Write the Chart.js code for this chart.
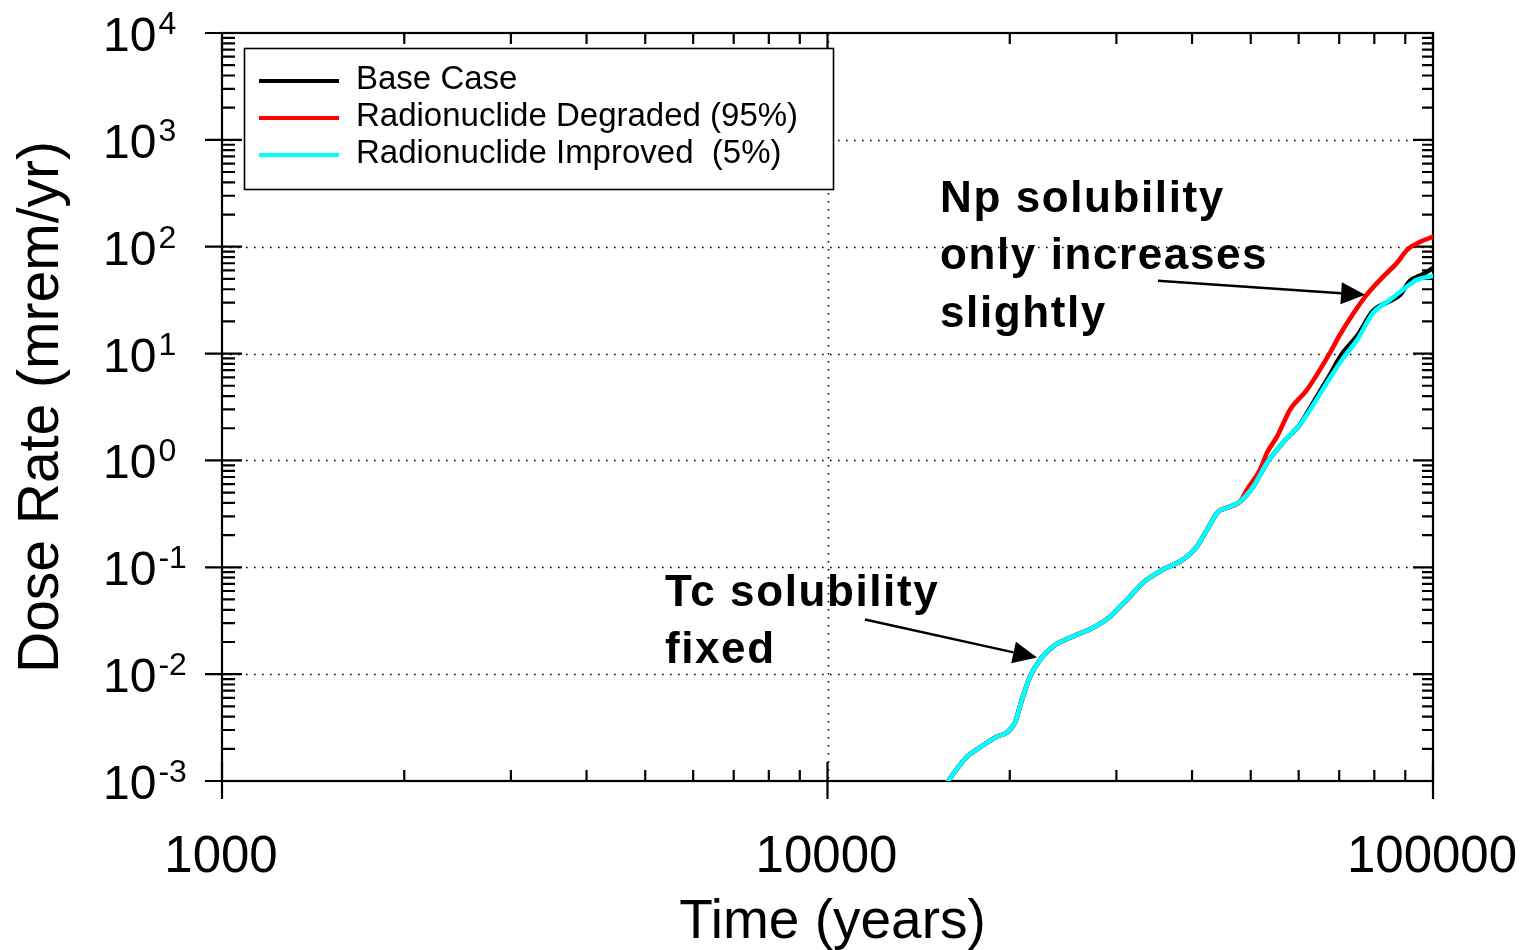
<!DOCTYPE html>
<html>
<head>
<meta charset="utf-8">
<title>Dose Rate vs Time</title>
<script src="https://cdn.jsdelivr.net/npm/chart.js@4.4.0/dist/chart.umd.min.js"></script>
<style>
  html, body { margin: 0; padding: 0; background: #ffffff; }
  #wrap { width: 1523px; height: 950px; position: relative; }
</style>
</head>
<body>
<div id="wrap"><canvas id="c" width="1523" height="950"></canvas></div>
<script>
// ---- data (years, mrem/yr) ----
// all three cases coincide up to ~48,000 years
const sharedYears = [15810, 17000, 17860, 19050, 19790, 20400, 20950, 21600, 22440, 23570,
                     25430, 27450, 29280, 30420, 31590, 33190, 35810, 38640, 40740, 42360,
                     44160, 45710, 47980];
const sharedDose  = [0.001, 0.00169, 0.00206, 0.00261, 0.00284, 0.00353, 0.00578, 0.00948, 0.0137, 0.0181,
                     0.0225, 0.0272, 0.0345, 0.0428, 0.0532, 0.0718, 0.0951, 0.118, 0.156, 0.225,
                     0.331, 0.361, 0.411];

const baseTailYears = [50470, 53200, 56490, 60260, 62660, 66830, 70990, 74990, 79600,
                       84880, 88220, 91620, 95900, 100000];
const baseTailDose  = [0.568, 0.953, 1.466, 2.16, 3.1, 5.69, 10.2, 14.7, 25.1,
                       31.0, 35.5, 47.9, 54.6, 63.1];

const degradedTailYears = [49290, 51800, 53190, 55250, 56960, 58050, 61920, 67610, 70220, 77240,
                           82660, 87200, 90620, 95200, 100000];
const degradedTailDose  = [0.532, 0.818, 1.18, 1.67, 2.40, 2.98, 4.58, 10.2, 15.1, 34.0,
                           52.2, 70.6, 93.5, 111, 124];

const improvedTailYears = [50470, 53200, 56490, 60260, 62660, 66830, 70990, 74990, 79620, 84880,
                           89140, 93980, 100000];
const improvedTailDose  = [0.568, 0.953, 1.466, 2.16, 2.98, 5.33, 9.0, 13.5, 24.0, 31.8,
                           39.5, 49.0, 53.3];

const seriesNames  = ['Base Case', 'Radionuclide Degraded (95%)', 'Radionuclide Improved  (5%)'];
const seriesColors = ['#000000', '#ff0000', '#00ffff'];

// ---- axis tick labels ----
const xTickValues = [1000, 10000, 100000];
const xTickLabels = ['1000', '10000', '100000'];
const yTickExponents = [-3, -2, -1, 0, 1, 2, 3, 4];

const FONT = '"Liberation Sans", Arial, Helvetica, sans-serif';

function toPoints(years, dose) {
  return years.map((t, i) => ({ x: t, y: dose[i] }));
}

const basePts     = toPoints(sharedYears.concat(baseTailYears), sharedDose.concat(baseTailDose));
const degradedPts = toPoints(sharedYears.concat(degradedTailYears), sharedDose.concat(degradedTailDose));
const improvedPts = toPoints(sharedYears.concat(improvedTailYears), sharedDose.concat(improvedTailDose));

// callouts: anchors given in data units
const callouts = [
  { lines: ['Np solubility', 'only increases', 'slightly'], textAt: [15340, 212],
    from: [35140, 48.0], to: [77240, 35.5] },
  { lines: ['Tc solubility', 'fixed'], textAt: [5390, 0.0436],
    from: [11530, 0.0324], to: [22180, 0.01429] }
];

function drawArrow(ctx, x1, y1, x2, y2) {
  const ang = Math.atan2(y2 - y1, x2 - x1);
  const len = 24, half = 11;
  const bx = x2 - len * Math.cos(ang), by = y2 - len * Math.sin(ang);
  ctx.beginPath();
  ctx.moveTo(x1, y1);
  ctx.lineTo(bx, by);
  ctx.stroke();
  ctx.beginPath();
  ctx.moveTo(x2, y2);
  ctx.lineTo(bx + half * Math.sin(ang), by - half * Math.cos(ang));
  ctx.lineTo(bx - half * Math.sin(ang), by + half * Math.cos(ang));
  ctx.closePath();
  ctx.fill();
}

const framePlugin = {
  id: 'frame',
  beforeDatasetsDraw(chart) {
    const { ctx, chartArea: a, scales: { x, y } } = chart;
    ctx.save();

    // dotted grid at the decades
    ctx.strokeStyle = '#000';
    ctx.lineWidth = 1.6;
    ctx.setLineDash([1.6, 6.4]);
    for (let e = -2; e <= 3; e++) {
      const py = Math.round(y.getPixelForValue(Math.pow(10, e))) + 0.5;
      ctx.beginPath(); ctx.moveTo(a.left, py); ctx.lineTo(a.right, py); ctx.stroke();
    }
    const gx = Math.round(x.getPixelForValue(10000)) + 0.5;
    ctx.beginPath(); ctx.moveTo(gx, a.top); ctx.lineTo(gx, a.bottom); ctx.stroke();
    ctx.setLineDash([]);

    // frame
    ctx.lineWidth = 2.2;
    ctx.strokeRect(a.left, a.top, a.right - a.left, a.bottom - a.top);

    // y ticks (left and right)
    for (let e = -3; e <= 4; e++) {
      for (let m = 1; m <= 9; m++) {
        const v = m * Math.pow(10, e);
        if (v < y.min * 0.999 || v > y.max * 1.001) continue;
        const py = y.getPixelForValue(v);
        ctx.beginPath();
        if (m === 1) {
          ctx.moveTo(a.left - 17, py); ctx.lineTo(a.left + 20, py);
          ctx.moveTo(a.right - 20, py); ctx.lineTo(a.right, py);
        } else {
          ctx.moveTo(a.left, py); ctx.lineTo(a.left + 13, py);
          ctx.moveTo(a.right - 11, py); ctx.lineTo(a.right, py);
        }
        ctx.stroke();
      }
    }
    // x ticks (bottom and top)
    for (let e = 3; e <= 5; e++) {
      for (let m = 1; m <= 9; m++) {
        const v = m * Math.pow(10, e);
        if (v < x.min * 0.999 || v > x.max * 1.001) continue;
        const px = x.getPixelForValue(v);
        ctx.beginPath();
        if (m === 1) {
          ctx.moveTo(px, a.bottom + 18); ctx.lineTo(px, a.bottom - 19);
          ctx.moveTo(px, a.top); ctx.lineTo(px, a.top + 19);
        } else {
          ctx.moveTo(px, a.bottom); ctx.lineTo(px, a.bottom - 11);
          ctx.moveTo(px, a.top); ctx.lineTo(px, a.top + 11);
        }
        ctx.stroke();
      }
    }
    ctx.restore();
  },
  afterDatasetsDraw(chart) {
    const { ctx, chartArea: a, scales: { x, y } } = chart;
    ctx.save();
    ctx.fillStyle = '#000';
    ctx.strokeStyle = '#000';

    // y tick labels: 10 with superscript exponent
    yTickExponents.forEach(e => {
      const py = y.getPixelForValue(Math.pow(10, e));
      ctx.font = '48px ' + FONT;
      ctx.textAlign = 'left';
      ctx.textBaseline = 'alphabetic';
      const base = '10';
      const lx = 103;
      ctx.fillText(base, lx, py + 18);
      const w = ctx.measureText(base).width;
      ctx.font = '32px ' + FONT;
      ctx.fillText(String(e), lx + w + 2, py + 1);
    });

    // x tick labels
    ctx.font = '51px ' + FONT;
    ctx.textAlign = 'center';
    ctx.textBaseline = 'alphabetic';
    xTickValues.forEach((v, i) => {
      ctx.fillText(xTickLabels[i], x.getPixelForValue(v) - 1, a.bottom + 91);
    });

    // axis titles
    ctx.font = '55px ' + FONT;
    ctx.fillText('Time (years)', (a.left + a.right) / 2 + 5, a.bottom + 157);
    ctx.save();
    ctx.translate(58, 407);
    ctx.rotate(-Math.PI / 2);
    ctx.font = '57px ' + FONT;
    ctx.textAlign = 'center';
    ctx.fillText('Dose Rate (mrem/yr)', 0, 0);
    ctx.restore();

    // legend box
    const lg = { left: 244, top: 48, right: 833, bottom: 189 };
    ctx.fillStyle = '#fff';
    ctx.fillRect(lg.left, lg.top, lg.right - lg.left, lg.bottom - lg.top);
    ctx.lineWidth = 1.6;
    ctx.strokeStyle = '#000';
    ctx.strokeRect(lg.left + 0.5, lg.top + 0.5, lg.right - lg.left, lg.bottom - lg.top);
    ctx.font = '33px ' + FONT;
    ctx.textAlign = 'left';
    chart.data.datasets.forEach((ds, i) => {
      const rowY = 81 + i * 37;
      ctx.strokeStyle = ds.borderColor;
      ctx.lineWidth = 4;
      ctx.beginPath(); ctx.moveTo(259, rowY); ctx.lineTo(339, rowY); ctx.stroke();
      ctx.fillStyle = '#000';
      ctx.fillText(ds.label, 356, rowY + 8);
    });

    // callouts
    ctx.fillStyle = '#000';
    ctx.strokeStyle = '#000';
    ctx.lineWidth = 2.5;
    callouts.forEach(c => {
      const tx = x.getPixelForValue(c.textAt[0]);
      const ty = y.getPixelForValue(c.textAt[1]);
      ctx.font = 'bold 44px ' + FONT;
      ctx.letterSpacing = '1.6px';
      ctx.textAlign = 'left';
      c.lines.forEach((ln, k) => ctx.fillText(ln, tx, ty + k * 57.5));
      ctx.letterSpacing = '0px';
      drawArrow(ctx,
        x.getPixelForValue(c.from[0]), y.getPixelForValue(c.from[1]),
        x.getPixelForValue(c.to[0]), y.getPixelForValue(c.to[1]));
    });
    ctx.restore();
  }
};

const lineStyle = {
  pointRadius: 0,
  borderWidth: 4.6,
  fill: false,
  cubicInterpolationMode: 'monotone',
  borderJoinStyle: 'round',
  borderCapStyle: 'round'
};

new Chart(document.getElementById('c'), {
  type: 'line',
  data: {
    datasets: [
      Object.assign({ label: seriesNames[0], data: basePts, borderColor: seriesColors[0], order: 3 }, lineStyle),
      Object.assign({ label: seriesNames[1], data: degradedPts, borderColor: seriesColors[1], order: 2 }, lineStyle),
      Object.assign({ label: seriesNames[2], data: improvedPts, borderColor: seriesColors[2], order: 1 }, lineStyle)
    ]
  },
  options: {
    responsive: false,
    animation: false,
    devicePixelRatio: 1,
    layout: { padding: { left: 222, right: 90, top: 33, bottom: 169 } },
    scales: {
      x: { type: 'logarithmic', min: 1000, max: 100000, display: false },
      y: { type: 'logarithmic', min: 0.001, max: 10000, display: false }
    },
    plugins: {
      legend: { display: false },
      tooltip: { enabled: false }
    }
  },
  plugins: [framePlugin]
});
</script>
</body>
</html>
